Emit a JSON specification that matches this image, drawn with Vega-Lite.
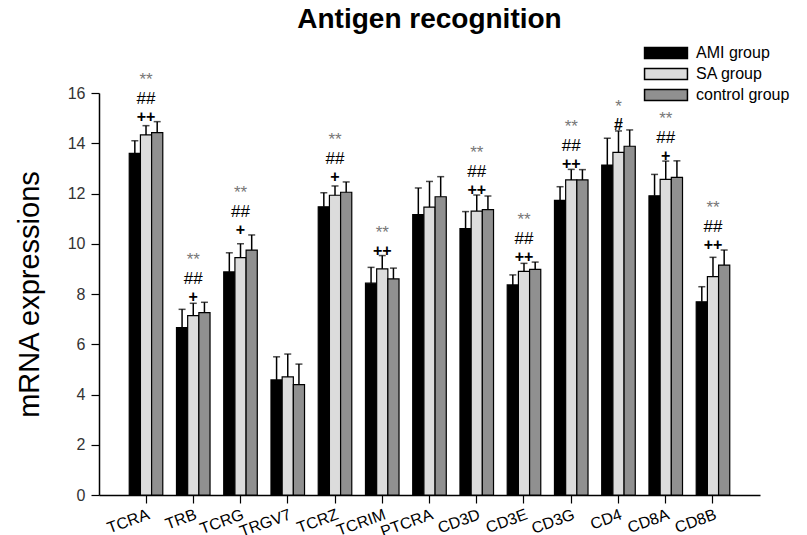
{
  "$schema": "https://vega.github.io/schema/vega-lite/v6.json",
  "width": 661,
  "height": 402,
  "autosize": "none",
  "padding": {"left": 99, "top": 93, "right": 47, "bottom": 40},
  "background": "white",
  "config": {"font": "Liberation Sans", "view": {"stroke": null}},
  "title": {"text": "Antigen recognition", "fontSize": 28, "fontWeight": "bold", "font": "Liberation Sans", "color": "#000", "anchor": "middle", "baseline": "alphabetic", "offset": 19, "dy": 34},
  "datasets": {
    "bars": [
      {"gene": "TCRA", "group": "AMI group", "mean": 13.6, "hi": 14.1},
      {"gene": "TCRA", "group": "SA group", "mean": 14.33, "hi": 14.7},
      {"gene": "TCRA", "group": "control group", "mean": 14.42, "hi": 14.86},
      {"gene": "TRB", "group": "AMI group", "mean": 6.66, "hi": 7.39},
      {"gene": "TRB", "group": "SA group", "mean": 7.14, "hi": 7.63},
      {"gene": "TRB", "group": "control group", "mean": 7.26, "hi": 7.67},
      {"gene": "TCRG", "group": "AMI group", "mean": 8.88, "hi": 9.64},
      {"gene": "TCRG", "group": "SA group", "mean": 9.45, "hi": 10.0},
      {"gene": "TCRG", "group": "control group", "mean": 9.75, "hi": 10.35},
      {"gene": "TRGV7", "group": "AMI group", "mean": 4.58, "hi": 5.5},
      {"gene": "TRGV7", "group": "SA group", "mean": 4.7, "hi": 5.61},
      {"gene": "TRGV7", "group": "control group", "mean": 4.39, "hi": 5.21},
      {"gene": "TCRZ", "group": "AMI group", "mean": 11.47, "hi": 12.03},
      {"gene": "TCRZ", "group": "SA group", "mean": 11.93, "hi": 12.3},
      {"gene": "TCRZ", "group": "control group", "mean": 12.05, "hi": 12.46},
      {"gene": "TCRIM", "group": "AMI group", "mean": 8.43, "hi": 9.06},
      {"gene": "TCRIM", "group": "SA group", "mean": 9.0, "hi": 9.53},
      {"gene": "TCRIM", "group": "control group", "mean": 8.6, "hi": 9.03},
      {"gene": "PTCRA", "group": "AMI group", "mean": 11.16, "hi": 12.22},
      {"gene": "PTCRA", "group": "SA group", "mean": 11.46, "hi": 12.48},
      {"gene": "PTCRA", "group": "control group", "mean": 11.87, "hi": 12.67},
      {"gene": "CD3D", "group": "AMI group", "mean": 10.6, "hi": 11.28},
      {"gene": "CD3D", "group": "SA group", "mean": 11.3, "hi": 11.94},
      {"gene": "CD3D", "group": "control group", "mean": 11.36, "hi": 11.9},
      {"gene": "CD3E", "group": "AMI group", "mean": 8.36, "hi": 8.76},
      {"gene": "CD3E", "group": "SA group", "mean": 8.9, "hi": 9.22},
      {"gene": "CD3E", "group": "control group", "mean": 8.98, "hi": 9.27},
      {"gene": "CD3G", "group": "AMI group", "mean": 11.73, "hi": 12.27},
      {"gene": "CD3G", "group": "SA group", "mean": 12.54, "hi": 12.96},
      {"gene": "CD3G", "group": "control group", "mean": 12.54, "hi": 12.95},
      {"gene": "CD4", "group": "AMI group", "mean": 13.13, "hi": 14.2},
      {"gene": "CD4", "group": "SA group", "mean": 13.64, "hi": 14.49},
      {"gene": "CD4", "group": "control group", "mean": 13.88, "hi": 14.53},
      {"gene": "CD8A", "group": "AMI group", "mean": 11.91, "hi": 12.76},
      {"gene": "CD8A", "group": "SA group", "mean": 12.56, "hi": 13.29},
      {"gene": "CD8A", "group": "control group", "mean": 12.64, "hi": 13.3},
      {"gene": "CD8B", "group": "AMI group", "mean": 7.69, "hi": 8.29},
      {"gene": "CD8B", "group": "SA group", "mean": 8.69, "hi": 9.46},
      {"gene": "CD8B", "group": "control group", "mean": 9.15, "hi": 9.75}
    ],
    "ann": [
      {"gene": "TCRA", "l1": "++", "l2": "##", "l3": "**"},
      {"gene": "TRB", "l1": "+", "l2": "##", "l3": "**"},
      {"gene": "TCRG", "l1": "+", "l2": "##", "l3": "**"},
      {"gene": "TCRZ", "l1": "+", "l2": "##", "l3": "**"},
      {"gene": "TCRIM", "l1": "++", "l2": "**", "l3": null},
      {"gene": "CD3D", "l1": "++", "l2": "##", "l3": "**"},
      {"gene": "CD3E", "l1": "++", "l2": "##", "l3": "**"},
      {"gene": "CD3G", "l1": "++", "l2": "##", "l3": "**"},
      {"gene": "CD4", "l1": "#", "l2": "*", "l3": null},
      {"gene": "CD8A", "l1": "+", "l2": "##", "l3": "**"},
      {"gene": "CD8B", "l1": "++", "l2": "##", "l3": "**"}
    ]
  },
  "data": {"name": "bars"},
  "layer": [
    {
      "mark": {"type": "bar", "stroke": "#000", "strokeWidth": 1.2},
      "encoding": {
        "x": {
          "field": "gene", "type": "nominal", "title": null,
          "scale": {"domain": ["TCRA", "TRB", "TCRG", "TRGV7", "TCRZ", "TCRIM", "PTCRA", "CD3D", "CD3E", "CD3G", "CD4", "CD8A", "CD8B"], "paddingInner": 0.29, "paddingOuter": 0.64},
          "axis": {"labelAngle": -20, "labelAlign": "right", "labelBaseline": "top", "labelFontSize": 16, "labelColor": "#000", "labelOverlap": false, "tickSize": 8, "tickColor": "#000", "tickWidth": 1.2, "domainColor": "#000", "domainWidth": 1.5, "labelPadding": 3, "grid": false}
        },
        "xOffset": {"field": "group", "type": "nominal", "scale": {"domain": ["AMI group", "SA group", "control group"], "paddingInner": 0, "paddingOuter": 0}},
        "y": {
          "field": "mean", "type": "quantitative", "title": "mRNA expressions",
          "scale": {"domain": [0, 16], "nice": false},
          "axis": {"values": [0, 2, 4, 6, 8, 10, 12, 14, 16], "labelFontSize": 16, "labelColor": "#333", "tickSize": 8, "tickColor": "#000", "tickWidth": 1.2, "domainColor": "#000", "domainWidth": 1.5, "labelPadding": 6, "titleFontSize": 29, "titleFontWeight": "normal", "titleColor": "#000", "titlePadding": 23, "grid": false}
        },
        "color": {
          "field": "group", "type": "nominal",
          "scale": {"domain": ["AMI group", "SA group", "control group"], "range": ["#000000", "#dcdcdc", "#909090"]},
          "legend": {"orient": "none", "legendX": 555, "legendY": -52, "title": null, "symbolType": "M-1.95,-0.5H1.95V0.5H-1.95Z", "symbolSize": 484, "symbolStrokeColor": "#000", "symbolStrokeWidth": 1.5, "symbolOpacity": 1, "labelFontSize": 16, "labelColor": "#000", "labelOffset": 18, "rowPadding": -2}
        }
      }
    },
    {
      "mark": {"type": "rule", "color": "#000", "strokeWidth": 1.5},
      "encoding": {
        "x": {"field": "gene", "type": "nominal", "title": null},
        "xOffset": {"field": "group", "type": "nominal"},
        "y": {"field": "mean", "type": "quantitative", "title": "mRNA expressions"},
        "y2": {"field": "hi"}
      }
    },
    {
      "mark": {"type": "tick", "color": "#000", "thickness": 1.5, "size": 7, "orient": "horizontal"},
      "encoding": {
        "x": {"field": "gene", "type": "nominal", "title": null},
        "xOffset": {"field": "group", "type": "nominal"},
        "y": {"field": "hi", "type": "quantitative", "title": "mRNA expressions"}
      }
    },
    {
      "transform": [
        {"joinaggregate": [{"op": "max", "field": "hi", "as": "top"}], "groupby": ["gene"]},
        {"filter": "datum.group == 'SA group'"},
        {"lookup": "gene", "from": {"data": {"name": "ann"}, "key": "gene", "fields": ["l1", "l2", "l3"]}},
        {"filter": "datum.l1 != null"}
      ],
      "layer": [
        {
          "mark": {"type": "text", "baseline": "middle", "align": "center", "dy": -5, "fontSize": 16, "fontWeight": "bold", "color": "#000"},
          "encoding": {
            "x": {"field": "gene", "type": "nominal", "title": null},
            "y": {"field": "top", "type": "quantitative", "title": "mRNA expressions"},
            "text": {"field": "l1"}
          }
        },
        {
          "mark": {"type": "text", "baseline": "middle", "align": "center", "dy": -23, "fontSize": 17},
          "encoding": {
            "x": {"field": "gene", "type": "nominal", "title": null},
            "y": {"field": "top", "type": "quantitative", "title": "mRNA expressions"},
            "text": {"field": "l2"},
            "color": {"condition": {"test": "indexof(datum.l2, '*') >= 0", "value": "#777777"}, "value": "#000000"}
          }
        },
        {
          "transform": [{"filter": "datum.l3 != null"}],
          "mark": {"type": "text", "baseline": "middle", "align": "center", "dy": -42, "fontSize": 17, "color": "#777777"},
          "encoding": {
            "x": {"field": "gene", "type": "nominal", "title": null},
            "y": {"field": "top", "type": "quantitative", "title": "mRNA expressions"},
            "text": {"field": "l3"}
          }
        }
      ]
    }
  ]
}
